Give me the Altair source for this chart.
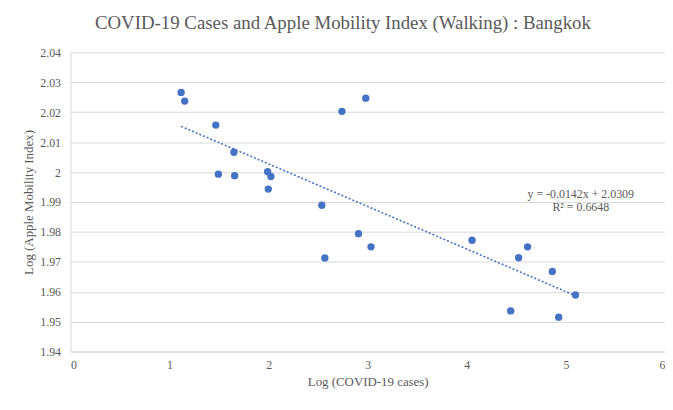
import altair as alt
import pandas as pd

# Data
log_cases = [1.117, 1.153, 1.467, 1.650, 1.493, 1.657, 1.990, 2.023, 1.997,
             2.740, 2.980, 2.537, 2.907, 3.033, 2.567,
             4.053, 4.613, 4.523, 4.863, 5.097, 4.443, 4.927]
log_mobility = [2.0266, 2.0237, 2.0157, 2.0066, 1.9993, 1.9988, 2.0001, 1.9985, 1.9943,
                2.0203, 2.0247, 1.9889, 1.9794, 1.9750, 1.9713,
                1.9772, 1.9750, 1.9714, 1.9668, 1.9589, 1.9536, 1.9515]
x_ticks = [0, 1, 2, 3, 4, 5, 6]
y_ticks = [1.94, 1.95, 1.96, 1.97, 1.98, 1.99, 2.00, 2.01, 2.02, 2.03, 2.04]
eq_lines = ["y = -0.0142x + 2.0309", "R² = 0.6648"]

df = pd.DataFrame({"x": log_cases, "y": log_mobility})

BLUE = "#4472C4"
FONT = "Liberation Serif"

x_axis = alt.Axis(values=x_ticks, title="Log (COVID-19 cases)", grid=False,
                  ticks=False, labelPadding=8, titlePadding=5, format="d",
                  labelOverlap=False, tickCount=20)
y_axis = alt.Axis(values=y_ticks, title="Log (Apple Mobility Index)", grid=True,
                  ticks=False, labelPadding=10, titlePadding=4, format=".2~f",
                  labelOverlap=False, tickCount=20)
x_scale = alt.Scale(domain=[0, 6], nice=False, zero=False)
y_scale = alt.Scale(domain=[1.94, 2.04], nice=False, zero=False)

points = alt.Chart(df).mark_circle(size=55, color=BLUE, opacity=1).encode(
    x=alt.X("x:Q", scale=x_scale, axis=x_axis),
    y=alt.Y("y:Q", scale=y_scale, axis=y_axis))

trend = alt.Chart(df).transform_regression("x", "y", method="linear").mark_line(
    color=BLUE, strokeWidth=1.6, strokeDash=[2, 2]
).encode(x=alt.X("x:Q", scale=x_scale, axis=x_axis),
         y=alt.Y("y:Q", scale=y_scale, axis=y_axis))

eq1 = alt.Chart(pd.DataFrame({"t": [eq_lines[0]]})).mark_text(
    font=FONT, fontSize=12, color="#595959", align="center", baseline="middle"
).encode(text="t:N", x=alt.value(515), y=alt.value(143))
eq2 = alt.Chart(pd.DataFrame({"t": [eq_lines[1]]})).mark_text(
    font=FONT, fontSize=12, color="#595959", align="center", baseline="middle"
).encode(text="t:N", x=alt.value(515), y=alt.value(156))

chart = alt.layer(points, trend, eq1, eq2).properties(
    width=600, height=302,
    autosize=alt.AutoSizeParams(type="none"),
    padding={"left": 63, "top": 43, "right": 0, "bottom": 38},
    title=alt.TitleParams("COVID-19 Cases and Apple Mobility Index (Walking) : Bangkok",
                          font=FONT, fontSize=19, fontWeight="normal", color="#595959",
                          anchor="middle", dx=-25, offset=14),
).configure_view(stroke=None).configure_axis(
    labelFont=FONT, titleFont=FONT, labelFontSize=12, titleFontSize=13,
    labelColor="#595959", titleColor="#595959", titleFontWeight="normal",
    domainColor="#d9d9d9", gridColor="#d9d9d9", gridWidth=1, domainWidth=1,
    labelOverlap=False
)

chart.save("out.html", embed_options={"renderer": "svg", "actions": False})
